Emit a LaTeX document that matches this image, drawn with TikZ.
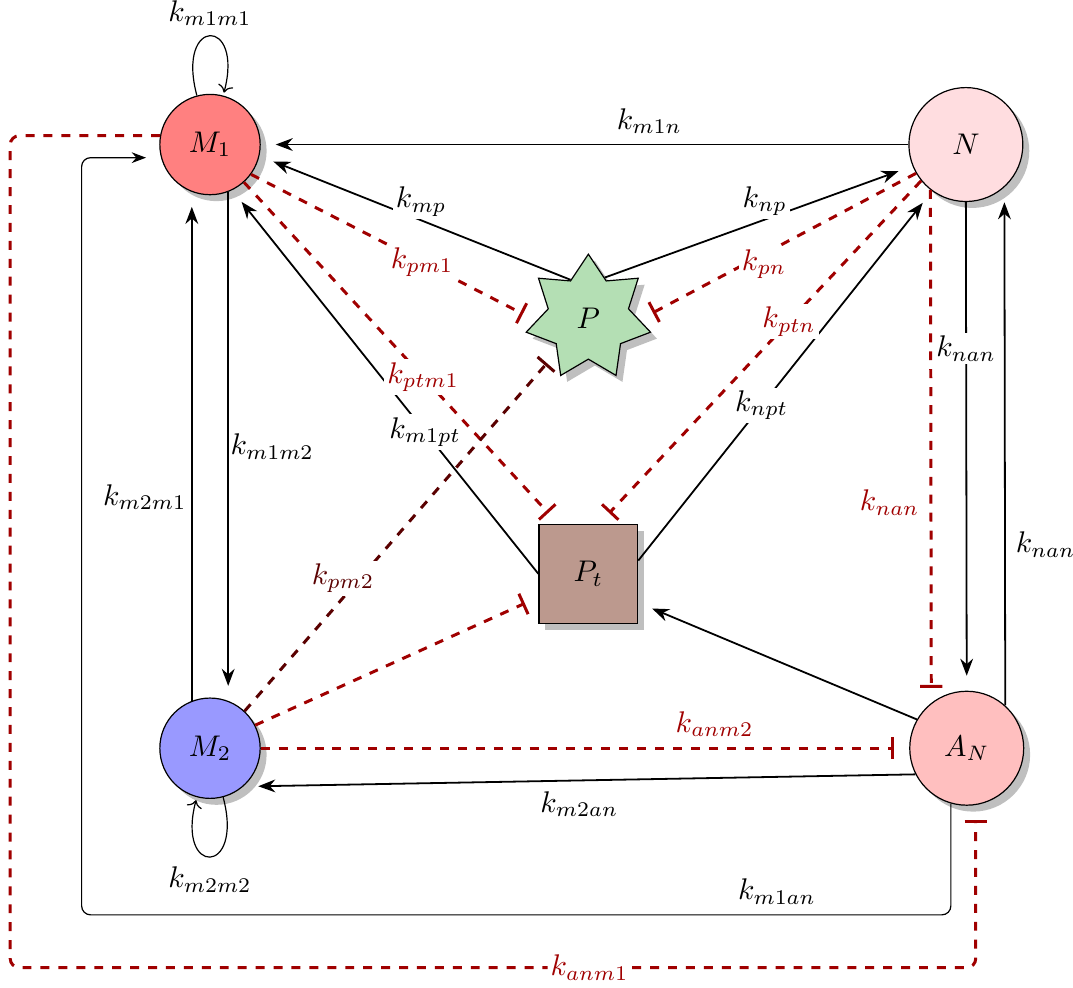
\documentclass[tikz,border=0pt]{standalone}
\usepackage{amsmath}
\usepackage{amssymb}
\usepackage{tikz}
\usetikzlibrary{shapes.geometric,shadows,arrows.meta}

\definecolor{mone}{RGB}{255,128,128}
\definecolor{mtwo}{RGB}{153,153,255}
\definecolor{nfill}{RGB}{255,221,224}
\definecolor{anfill}{RGB}{255,191,191}
\definecolor{pfill}{RGB}{180,223,180}
\definecolor{ptfill}{RGB}{188,153,142}
\definecolor{inhred}{RGB}{160,0,0}
\definecolor{inhdark}{RGB}{90,0,0}

\begin{document}
\begin{tikzpicture}
      [species/.style={circle,draw,drop shadow,minimum size=1.18cm},
       big species/.style={species,minimum size=1.34cm},
       act/.style={-{Stealth},semithick,shorten >=5pt},
       inh/.style={-{Bar[width=7.5pt]},line width=1pt,dashed,draw=inhred,shorten >=5pt},
       rate/.style={fill=white,inner sep=1pt},
       inhrate/.style={rate,text=inhred}]
      \useasboundingbox (-2.47,-2.82) rectangle (10.15,8.8);
      \node[species,fill=mone] (M1) at (0,7.1) {$M_1$};
      \node[big species,fill=nfill] (N) at (8.89,7.1) {$N$};
      \node[species,fill=mtwo] (M2) at (0,0) {$M_2$};
      \node[big species,fill=anfill] (AN) at (8.9,0) {$A_N$};
      \node[star,star points=7,star point ratio=1.55,minimum size=1.5cm,
            inner sep=0pt,draw,drop shadow,fill=pfill] (P) at (4.45,5.06) {$P$};
      \node[rectangle,draw,drop shadow,minimum size=1.16cm,fill=ptfill] (Pt) at (4.45,2.05) {$P_t$};
      \coordinate (inner) at (-1.51,-1.96);
      \coordinate (outer) at (-2.35,-2.58);
      % activations
      \draw[act] (N.west) -- node[above,pos=0.4] {$k_{m1n}$} (M1.east);
      \draw[act] (P.115) -- node[rate,above,pos=0.48] {$k_{mp}$} (M1.-13);
      \draw[act] (P.68) -- node[rate,above,pos=0.52] {$k_{np}$} (N.202);
      \draw[act] (Pt.west) -- node[rate,pos=0.37] {$k_{m1pt}$} (M1.-64);
      \draw[act] (Pt.15) -- node[rate,pos=0.42] {$k_{npt}$} (N.234);
      \draw[act] (AN.150) -- (Pt.-30);
      \draw[act] (AN.207) -- node[below] {$k_{m2an}$} (M2.-49);
      \draw[act] (M1.-69) -- node[right,inner sep=0.5pt] {$k_{m1m2}$} (M2.69);
      \draw[act] (M2.111) -- node[left,inner sep=1.5pt,pos=0.4] {$k_{m2m1}$} (M1.-111);
      \draw[act] (N.south) -- node[rate,pos=0.3] {$k_{nan}$} (AN.north);
      \draw[act] (AN.48) -- node[right,pos=0.31] {$k_{nan}$} (N.-48);
      \draw[-{Stealth},thin,rounded corners=3pt,shorten >=5pt]
            (AN.-106) |- node[above,pos=0.6] {$k_{m1an}$} (inner) |- (M1.195);
      % self loops
      \path[-{Stealth},thin] (M1) edge[loop above] node[above] {$k_{m1m1}$} ();
      \path[-{Stealth},thin] (M2) edge[loop below] node[below] {$k_{m2m2}$} ();
      % inhibitions
      \draw[inh] (M1.-36) -- node[inhrate,pos=0.6] {$k_{pm1}$} (P.183);
      \draw[inh] (N.210) -- node[inhrate,pos=0.55,yshift=-0.12cm] {$k_{pn}$} (P.-2);
      \draw[inh] (M1.-48) -- node[inhrate,pos=0.57] {$k_{ptm1}$} (Pt.121);
      \draw[inh] (N.219) -- node[inhrate,pos=0.41] {$k_{ptn}$} (Pt.78);
      \draw[inh,draw=inhdark] (M2.47) -- node[rate,text=inhdark,pos=0.37,xshift=-0.2cm] {$k_{pm2}$} (P.227);
      \draw[inh] (M2.27) -- (Pt.205);
      \draw[inh] (M2.east) -- node[above,text=inhred,pos=0.7] {$k_{anm2}$} (AN.west);
      \draw[inh] (N.-128) -- node[left,text=inhred,pos=0.61] {$k_{nan}$} (AN.128);
      \draw[inh,rounded corners=3pt]
            (M1.170) -| (outer) -| node[inhrate,pos=0.3] {$k_{anm1}$} (AN.-81);
    \end{tikzpicture}
\end{document}
